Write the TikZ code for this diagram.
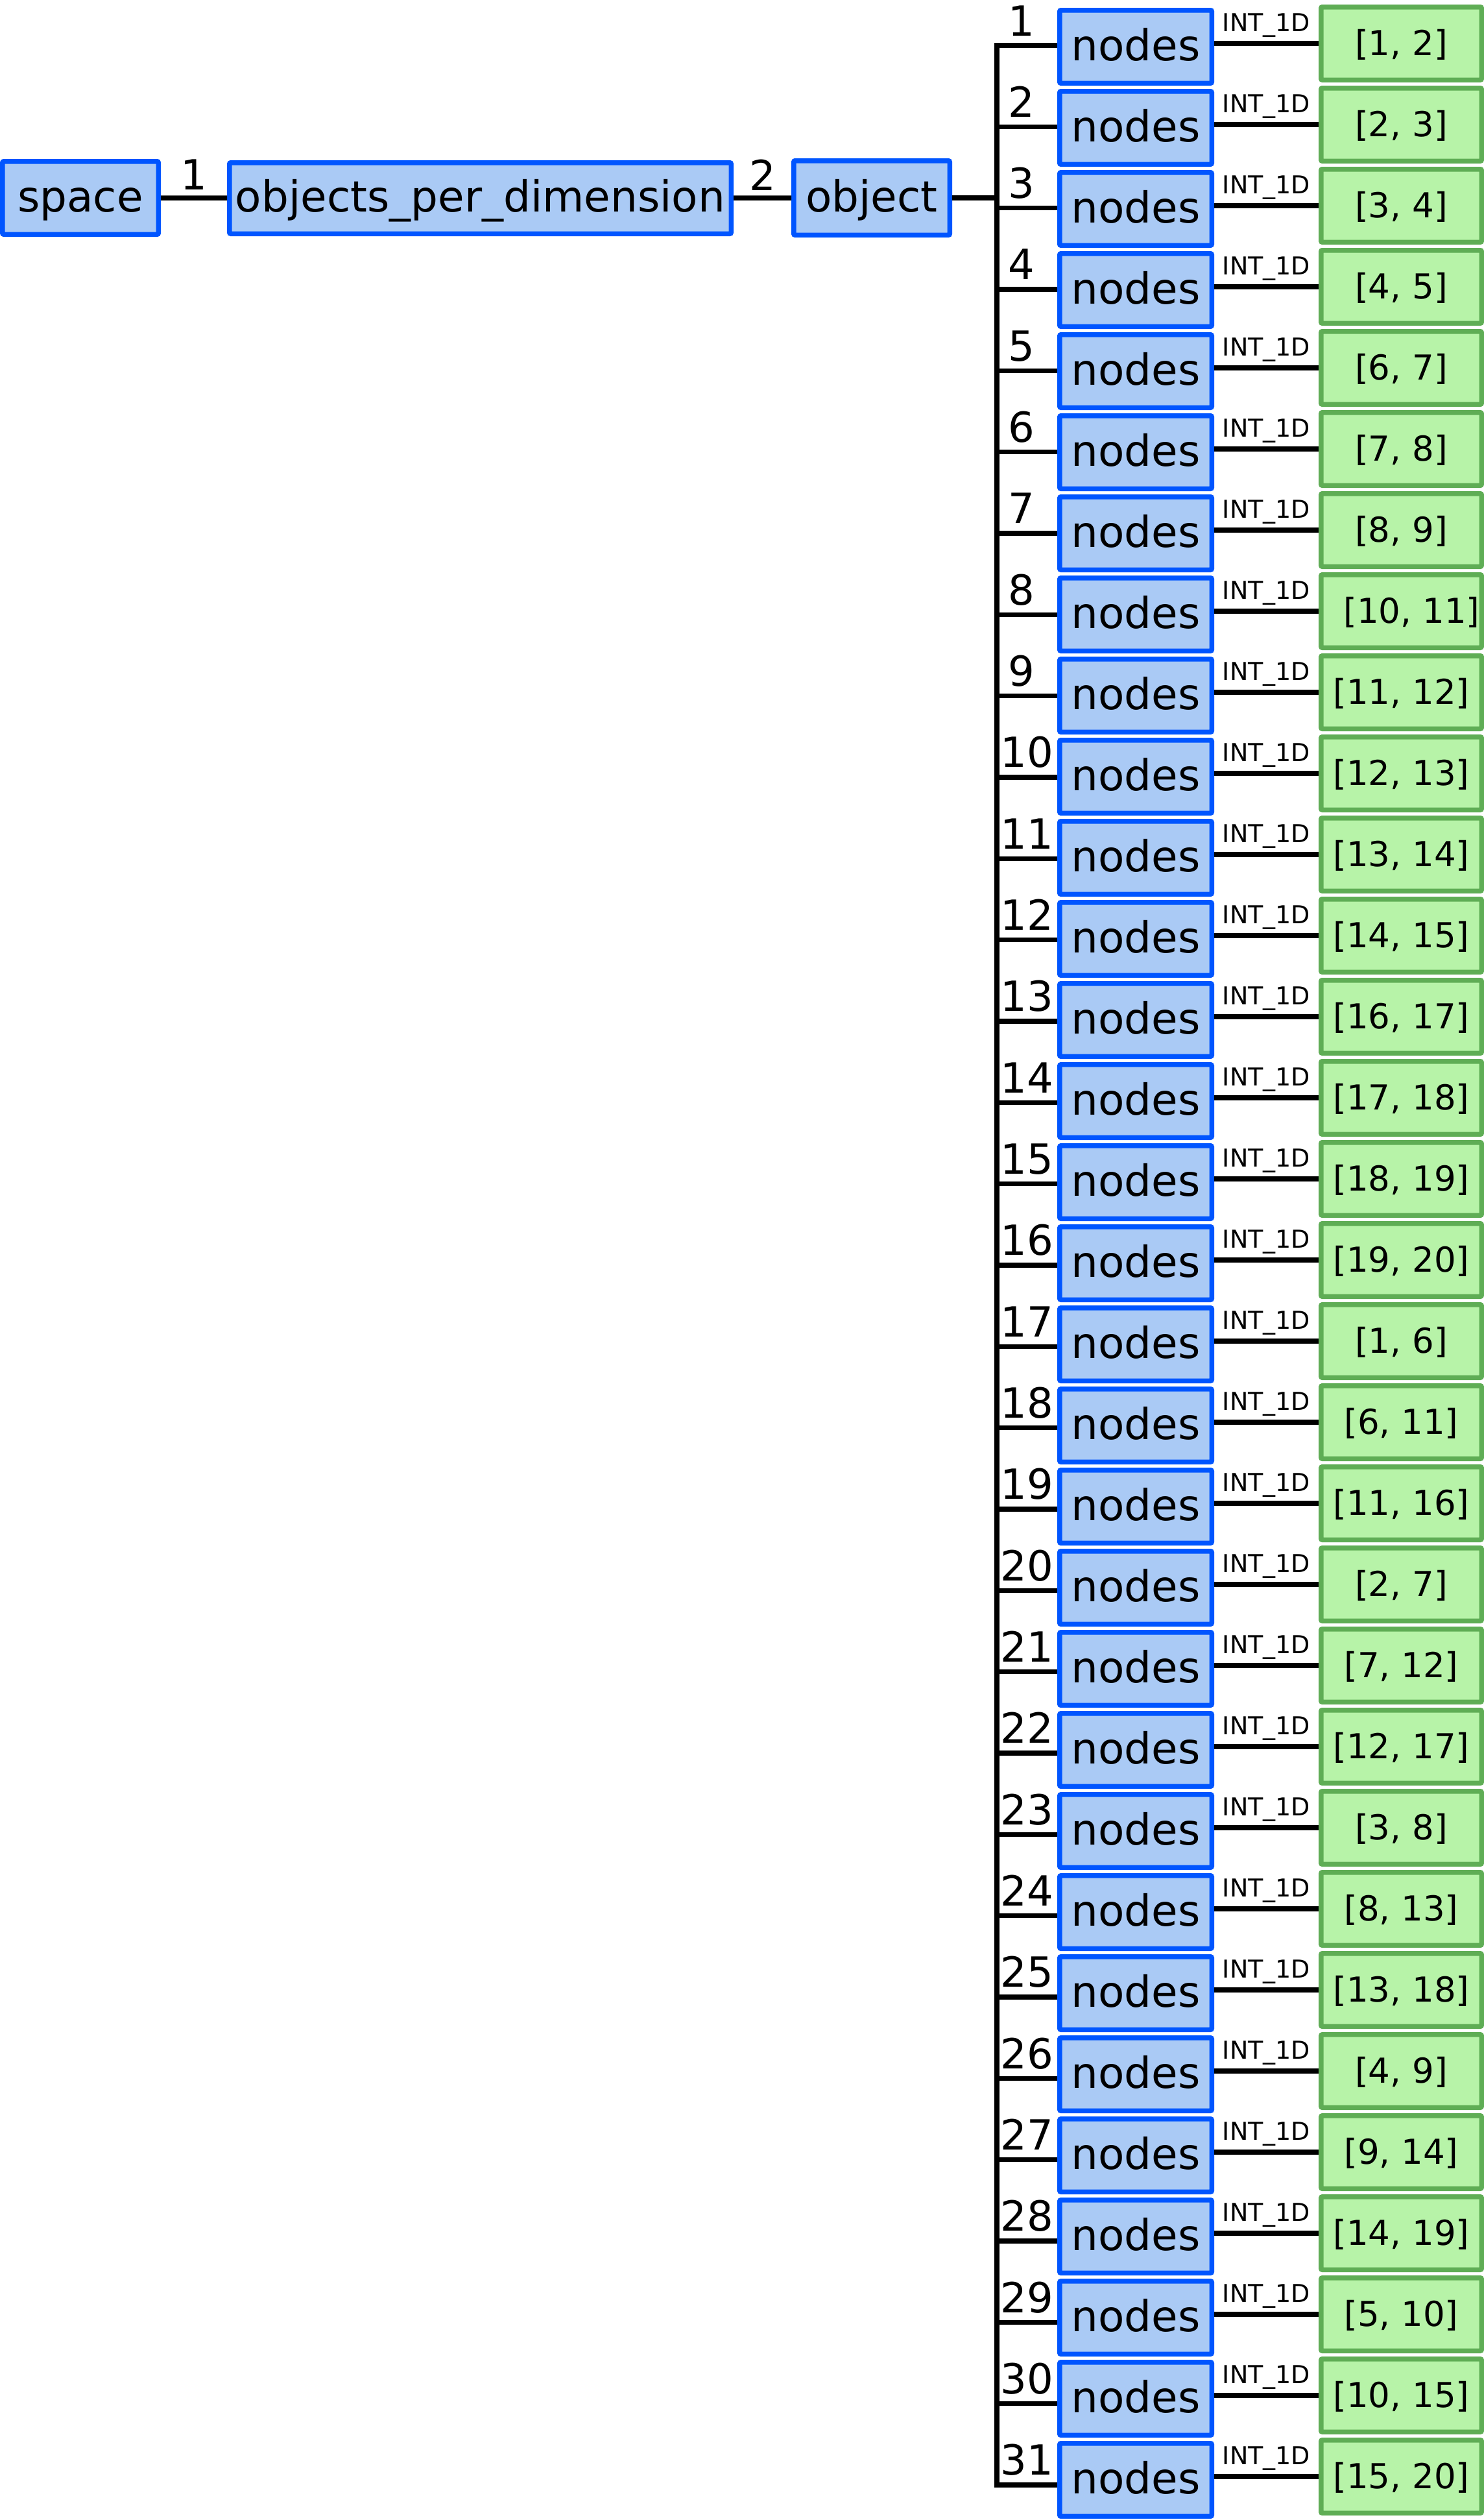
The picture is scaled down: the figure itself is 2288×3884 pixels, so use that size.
\documentclass[tikz,border=0pt]{standalone}
\usepackage{fontspec}
\setmainfont{DejaVu Sans}
\definecolor{bluestroke}{RGB}{0,85,255}
\definecolor{bluefill}{RGB}{170,202,245}
\definecolor{greenstroke}{RGB}{95,173,85}
\definecolor{greenfill}{RGB}{183,243,168}
\tikzset{
  bluebox/.style={draw=bluestroke, fill=bluefill, line width=7.5pt, rounded corners=2pt,
    inner sep=0pt, font=\fontsize{66}{70}\selectfont, text height=48pt, text depth=6pt,
    minimum height=112.5pt},
  greenbox/.style={draw=greenstroke, fill=greenfill, line width=7.5pt, rounded corners=2pt,
    inner sep=0pt, font=\fontsize{53}{56}\selectfont, text height=40pt, text depth=4pt,
    minimum width=247.5pt, minimum height=112.5pt},
  conn/.style={draw=black, line width=7.5pt},
  numlabel/.style={anchor=base, inner sep=0pt, font=\fontsize{64}{68}\selectfont},
  typelabel/.style={anchor=base, inner sep=0pt, font=\fontsize{38}{40}\selectfont},
}
\begin{document}
\begin{tikzpicture}[x=1pt,y=-1pt]
\useasboundingbox (0,0) rectangle (2288,3884);
% top-level chain
\node[bluebox, minimum width=240.5pt] (space) at (124,305) {space};
\node[bluebox, minimum width=773.5pt, minimum height=109.5pt] (opd) at (740.5,305.5) {objects\_per\_dimension};
\node[bluebox, minimum width=240.5pt, minimum height=114.5pt] (object) at (1344,305) {object};
\coordinate (busx) at (1537,0);
\draw[conn] (space) -- node[numlabel, yshift=13pt] {1} (opd);
\draw[conn] (opd) -- node[numlabel, yshift=12pt] {2} (object);
\draw[conn] (object.east) -- (object.east -| busx);
% rows
\foreach \k/\lab/\dx in {1/{[1, 2]}/0, 2/{[2, 3]}/0, 3/{[3, 4]}/0, 4/{[4, 5]}/0,
  5/{[6, 7]}/0, 6/{[7, 8]}/0, 7/{[8, 9]}/0, 8/{[10, 11]}/32, 9/{[11, 12]}/0,
  10/{[12, 13]}/0, 11/{[13, 14]}/0, 12/{[14, 15]}/0, 13/{[16, 17]}/0,
  14/{[17, 18]}/0, 15/{[18, 19]}/0, 16/{[19, 20]}/0, 17/{[1, 6]}/0,
  18/{[6, 11]}/0, 19/{[11, 16]}/0, 20/{[2, 7]}/0, 21/{[7, 12]}/0,
  22/{[12, 17]}/0, 23/{[3, 8]}/0, 24/{[8, 13]}/0, 25/{[13, 18]}/0,
  26/{[4, 9]}/0, 27/{[9, 14]}/0, 28/{[14, 19]}/0, 29/{[5, 10]}/0,
  30/{[10, 15]}/0, 31/{[15, 20]}/0}{
  \pgfmathsetmacro\cy{72+125*(\k-1)}
  \pgfmathsetmacro\by{\cy-2+0.33*(\k-1)}
  \pgfmathsetmacro\lx{\k<10 ? -9 : 0}
  \node[bluebox, minimum width=234.5pt] (nodes\k) at (1751,\cy) {nodes};
  \node[greenbox] (green\k) at (2160.5,\cy-5) {\hspace*{\dx pt}\lab};
  \coordinate (br\k) at (1537,\by);
  \draw[conn] (br\k) -- (nodes\k.west |- br\k)
    node[midway, numlabel, yshift=15pt, xshift=\lx pt] {\k};
  \draw[conn] (nodes\k.east |- green\k.west) -- (green\k.west)
    node[midway, typelabel, yshift=19pt] {INT\_1D};
}
% bus
\draw[conn] (nodes1.west |- br1) -- (br1) -- (br31) -- (nodes31.west |- br31);
\end{tikzpicture}
\end{document}
